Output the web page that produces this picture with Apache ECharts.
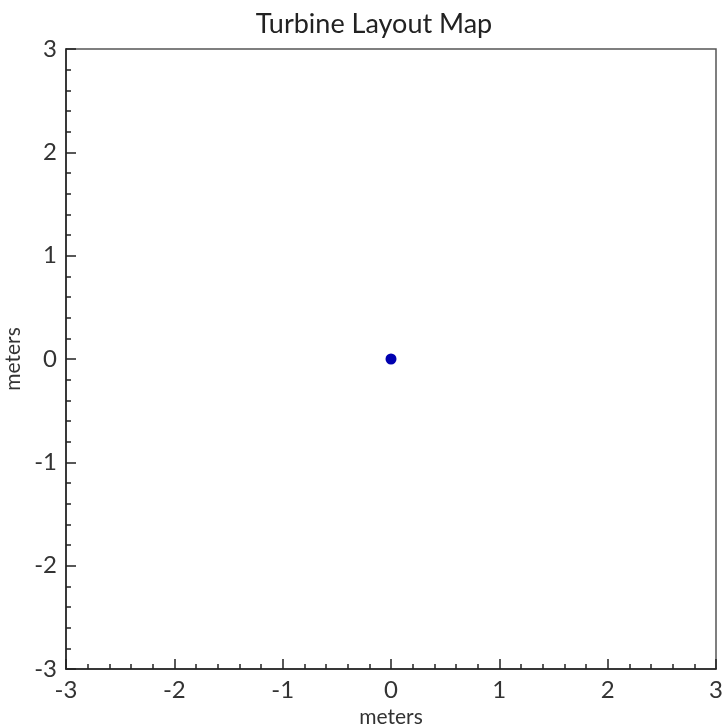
<!DOCTYPE html>
<html><head><meta charset="utf-8">
<script src="https://cdn.jsdelivr.net/npm/echarts@6/dist/echarts.min.js"></script>
<style>html,body{margin:0;padding:0;background:#fff}#c{width:722px;height:726px}</style>
</head><body><div id="c"></div>
<script>
const xValues = [0];
const yValues = [0];
const axisMin = -3, axisMax = 3, axisStep = 1;
const titleText = 'Turbine Layout Map';
const xLabel = 'meters', yLabel = 'meters';

const chart = echarts.init(document.getElementById('c'), null, {renderer:'canvas'});
const font = 'Lato';
function axis(name, gap, rot) {
  return {
    type:'value', min:axisMin, max:axisMax, interval:axisStep,
    name:name, nameLocation:'middle', nameGap:gap, nameRotate:rot,
    nameTextStyle:{fontFamily:font, fontSize:21, color:'#333'},
    axisLine:{show:true, onZero:false, lineStyle:{color:'#222', width:1.5}},
    axisTick:{show:true, inside:true, length:10, lineStyle:{color:'#222', width:1.5}},
    minorTick:{show:true, splitNumber:5, length:5, lineStyle:{color:'#222', width:1.5}},
    splitLine:{show:false},
    axisLabel:{fontFamily:font, fontSize:24, color:'#333', margin:9}
  };
}
chart.setOption({
  animation:false,
  backgroundColor:'#fff',
  title:{text:titleText, left:369, textAlign:'center', top:6,
    textStyle:{fontFamily:font, fontSize:27, fontWeight:'normal', color:'#222'}},
  grid:{left:66, right:6, top:49, bottom:57, show:true, borderColor:'#555', borderWidth:1.5,
    backgroundColor:'#fff', containLabel:false, outerBoundsMode:'none'},
  xAxis: axis(xLabel, 32, 0),
  yAxis: axis(yLabel, 35, 90),
  series:[{type:'scatter', data:xValues.map((x,i)=>[x, yValues[i]]), symbolSize:11,
    itemStyle:{color:'#0000b0', opacity:1}}]
});
</script></body></html>
